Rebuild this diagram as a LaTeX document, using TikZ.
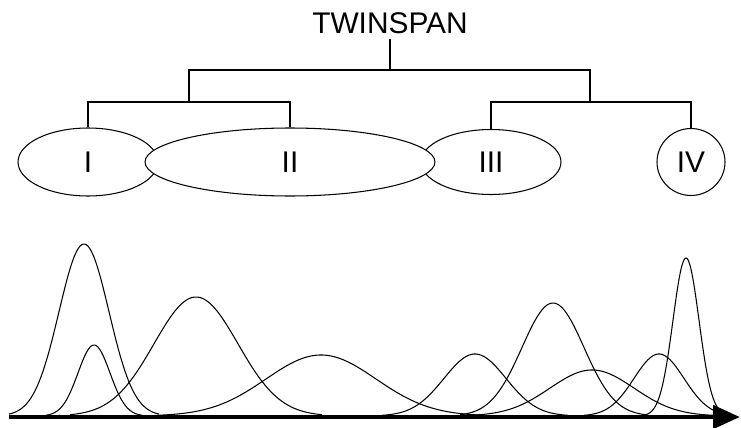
\documentclass[tikz,border=0pt]{standalone}
\usepackage{fontspec}
\setmainfont{Liberation Sans}
\usetikzlibrary{arrows.meta,shapes.geometric}
\newcommand{\bigfont}{\fontsize{17}{20}\selectfont}
\tikzset{
  clust/.style={ellipse, draw, fill=white, line width=0.6pt, inner sep=0pt,
    font=\bigfont},
  branch/.style={line width=1.2pt},
  dens/.style={line width=0.6pt},
  gradaxis/.style={line width=2.8pt, -{Triangle[length=0.54cm,width=0.46cm]}},
}

\begin{document}
\begin{tikzpicture}[x=0.02cm, y=0.02cm]
  \useasboundingbox (0,0) rectangle (741,427);

  % classification tree
  \node[font=\bigfont, inner sep=3pt] (title) at (390,404) {TWINSPAN};
  \node[clust, minimum width=2.8cm, minimum height=1.36cm] (I) at (88,265) {I};
  \node[clust, minimum width=2.8cm, minimum height=1.3cm] (III) at (491,265) {III};
  \node[clust, minimum width=1.36cm, minimum height=1.34cm] (IV) at (691,265) {IV};
  \node[clust, minimum width=5.8cm, minimum height=1.36cm] (II) at (290,265) {II};

  \coordinate (top) at (390,357);
  \coordinate (lsplit) at (189,325);
  \coordinate (rsplit) at (590,325);

  \draw[branch] (title.south) -- (top);
  \draw[branch] (lsplit) |- (top) -| (rsplit);
  \draw[branch] (I.north) |- (lsplit) -| (II.north);
  \draw[branch] (III.north) |- (rsplit) -| (IV.north);

  % species responses along the gradient: mean/sd/height/from/to
  \foreach \m/\s/\h/\a/\b in {84/25/172/9/159, 94/16/71/46/142,
      196/42/119/70/322, 321/55/61/156/486, 475/31/62/382/568,
      553/31/113/460/646, 592/42/46/466/718, 659/25/62/584/734,
      686/13/158/645/728}
    \draw[dens] plot[domain=\a:\b, samples=90, smooth]
      (\x, {11 + \h*exp(-0.5*((\x-\m)/\s)^2)});

  \coordinate (gstart) at (9,10);
  \coordinate (gend) at (740,10);
  \draw[gradaxis] (gstart) -- (gend);
\end{tikzpicture}
\end{document}
